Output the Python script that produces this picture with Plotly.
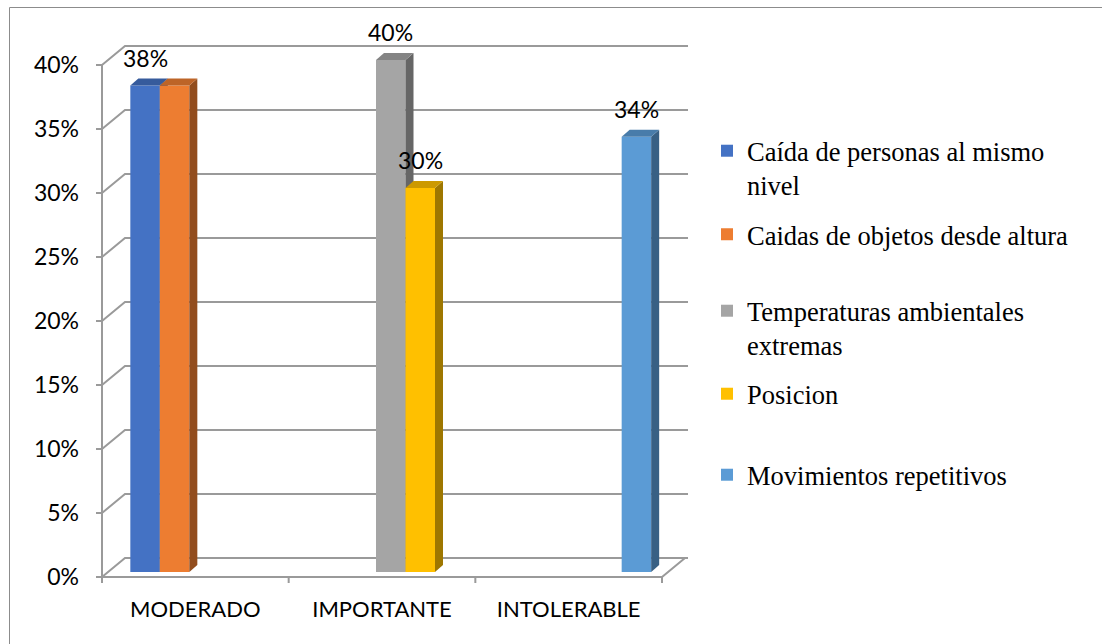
import plotly.graph_objects as go

# ---- data -------------------------------------------------------------
categories = ["MODERADO", "IMPORTANTE", "INTOLERABLE"]

series_names = [
    "Caída de personas al mismo<br>nivel",
    "Caidas de objetos desde altura",
    "Temperaturas ambientales<br>extremas",
    "Posicion",
    "Movimientos repetitivos",
]
caida_personas = [38, None, None]
caidas_objetos = [38, None, None]
temperaturas = [None, 40, None]
posicion = [None, 30, None]
movimientos = [None, None, 34]
series_values = [caida_personas, caidas_objetos, temperaturas, posicion, movimientos]
show_value_label = [True, False, True, True, True]

y_ticks = [0, 5, 10, 15, 20, 25, 30, 35, 40]

# ---- styling ----------------------------------------------------------
front_colors = ["#4472C4", "#ED7D31", "#A5A5A5", "#FFC000", "#5B9BD5"]


def shade(hex_color, f):
    h = hex_color.lstrip("#")
    r, g, b = (int(h[i:i + 2], 16) for i in (0, 2, 4))
    return "rgb({},{},{})".format(int(r * f), int(g * f), int(b * f))


top_colors = [shade(c, 0.80) for c in front_colors]
side_colors = [shade(c, 0.62) for c in front_colors]

W, H = 1102, 644
# plot-area box in pixels
L, R, T, B = 92, 700, 30, 586
# front plane: category -0.5 sits at X0, 0 % sits at Y0
X0, Y0 = 102, 577
CAT_PX, PCT_PX = 186.67, 12.8


def xd(px):
    return -0.5 + (px - X0) / CAT_PX


def yd(py):
    return (Y0 - py) / PCT_PX


def xp(px):
    return (px - L) / (R - L)


def yp(py):
    return (B - py) / (B - T)


# depth offsets of the back wall and of the bar boxes (data units)
WALL_DX, WALL_DY = 23 / CAT_PX, 19 / PCT_PX
BAR_DX, BAR_DY = 8 / CAT_PX, 7 / PCT_PX
BAR_BASE = 5 / PCT_PX
SLOT_W = 29.5 / CAT_PX
GROUP_OFF = -65 / CAT_PX

GRID = "#9A9A9A"
SANS = "Lato"
SERIF = "Liberation Serif"

fig = go.Figure()

# ---- walls, floor and gridlines ---------------------------------------
n_cat = len(categories)
x_left, x_right = -0.5, n_cat - 0.5
wx, wy = [], []
for v in y_ticks:
    # back-wall gridline + side-wall diagonal
    wx += [x_left, x_left + WALL_DX, x_right + WALL_DX + 3 / CAT_PX, None]
    wy += [v, v + WALL_DY, v + WALL_DY, None]
# front floor edge and right floor edge
wx += [x_left, x_right, x_right + WALL_DX, None]
wy += [0, 0, WALL_DY, None]
# front vertical axis
wx += [x_left, x_left, None]
wy += [0, y_ticks[-1], None]
# tick marks
for v in y_ticks:
    wx += [xd(96), x_left, None]
    wy += [v, v, None]
for k in range(n_cat + 1):
    wx += [x_left + k, x_left + k, None]
    wy += [0, yd(583), None]
fig.add_trace(go.Scatter(x=wx, y=wy, mode="lines", line=dict(color=GRID, width=2),
                         hoverinfo="skip", showlegend=False, zorder=0))

# ---- bars -------------------------------------------------------------
annotations = []
for j, (name, vals) in enumerate(zip(series_names, series_values)):
    legend_id = "legend" if j == 0 else "legend{}".format(j + 1)
    fig.add_trace(go.Bar(
        x=list(range(n_cat)), y=vals, base=BAR_BASE, width=SLOT_W,
        offset=GROUP_OFF + j * SLOT_W, name=name,
        marker=dict(color=front_colors[j], line=dict(width=0)),
        legend=legend_id, zorder=j + 1,
        hovertemplate="%{x}: %{y}%<extra></extra>",
    ))
    sx, sy, tx, ty = [], [], [], []
    for i, v in enumerate(vals):
        if v is None:
            continue
        xl = i + GROUP_OFF + j * SLOT_W
        xr = xl + SLOT_W
        yb, yt = BAR_BASE, BAR_BASE + v
        sx += [xr, xr + BAR_DX, xr + BAR_DX, xr, xr, None]
        sy += [yb, yb + BAR_DY, yt + BAR_DY, yt, yb, None]
        tx += [xl, xl + BAR_DX, xr + BAR_DX, xr, xl, None]
        ty += [yt, yt + BAR_DY, yt + BAR_DY, yt, yt, None]
        if show_value_label[j]:
            annotations.append(dict(
                x=(xl + xr) / 2, y=yt, xref="x", yref="y", text="{}%".format(v),
                showarrow=False, yanchor="bottom", yshift=12,
                font=dict(family=SANS, size=23, color="#000000")))
    fig.add_trace(go.Scatter(x=sx, y=sy, mode="lines", fill="toself",
                             fillcolor=side_colors[j], line=dict(width=0),
                             hoverinfo="skip", showlegend=False, zorder=j + 1))
    fig.add_trace(go.Scatter(x=tx, y=ty, mode="lines", fill="toself",
                             fillcolor=top_colors[j], line=dict(width=0),
                             hoverinfo="skip", showlegend=False, zorder=j + 1))

# ---- legends (one per entry so each can be placed freely) --------------
legend_centers = [168, 234.5, 328, 394, 475]
legend_common = dict(x=xp(707), xanchor="left", yanchor="middle",
                     bgcolor="rgba(0,0,0,0)", valign="top",
                     font=dict(family=SERIF, size=26.5, color="#000000"))
legends = {}
for j, cy in enumerate(legend_centers):
    key = "legend" if j == 0 else "legend{}".format(j + 1)
    legends[key] = dict(legend_common, y=yp(cy))

# ---- outer frame --------------------------------------------------------
shapes = [
    dict(type="line", xref="paper", yref="paper", x0=xp(9.5), x1=xp(W + 5),
         y0=yp(7.5), y1=yp(7.5), line=dict(color="#8C8C8C", width=1)),
    dict(type="line", xref="paper", yref="paper", x0=xp(9.5), x1=xp(9.5),
         y0=yp(7.5), y1=yp(H + 5), line=dict(color="#8C8C8C", width=1)),
]

fig.update_layout(
    width=W, height=H,
    margin=dict(l=L, r=W - R, t=T, b=H - B),
    paper_bgcolor="white", plot_bgcolor="white",
    barmode="overlay",
    showlegend=True,
    annotations=annotations,
    shapes=shapes,
    xaxis=dict(range=[xd(L), xd(R)], tickvals=list(range(n_cat)), ticktext=categories,
               ticks="", showgrid=False, zeroline=False, showline=False,
               ticklabelstandoff=8, tickfont=dict(family=SANS, size=22, color="#000000"),
               fixedrange=True),
    yaxis=dict(range=[yd(B), yd(T)], tickvals=y_ticks,
               ticktext=["{}%".format(v) for v in y_ticks],
               ticks="", showgrid=False, zeroline=False, showline=False,
               ticklabelstandoff=12, tickfont=dict(family=SANS, size=23, color="#000000"),
               fixedrange=True),
    **legends,
)

fig.write_html("out.html")
